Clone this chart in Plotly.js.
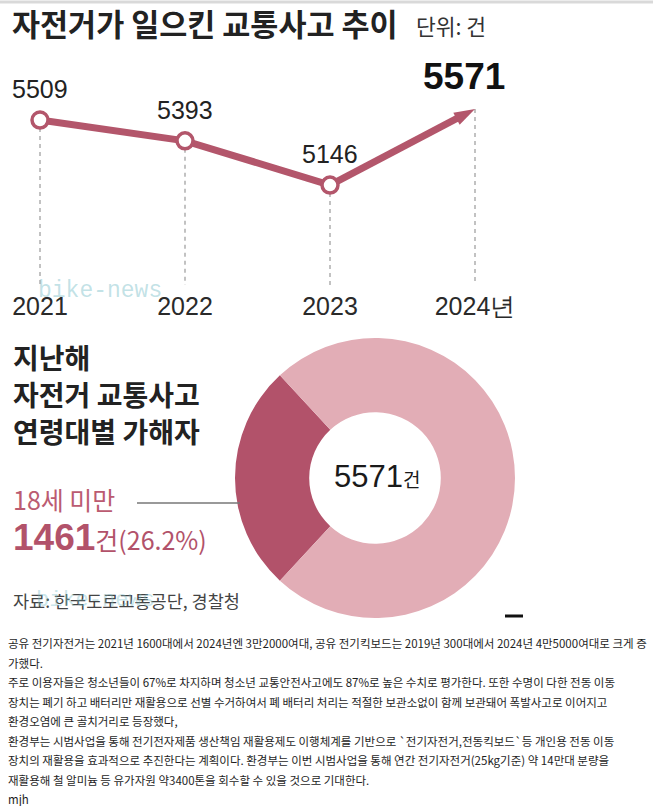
<!DOCTYPE html>
<html>
<head>
<meta charset="utf-8">
<script src="https://cdn.plot.ly/plotly-3.0.1.min.js"></script>
<style>
  html, body { margin: 0; padding: 0; background: #fff; }
  #chart { width: 653px; height: 806px; }
</style>
</head>
<body>
<div id="chart"></div>
<script>
// ---- data -------------------------------------------------------------
const years = [2021, 2022, 2023, 2024];
const yearLabels = ['2021', '2022', '2023', '2024년'];
const accidents = [5509, 5393, 5146, 5571];

const ageGroups = ['18세 미만', '18세 이상'];
const offenders = [1461, 4110];

const chartTitle = '자전거가 일으킨 교통사고 추이';
const unitNote = '단위: 건';
const donutHeading = ['지난해', '자전거 교통사고', '연령대별 가해자'];
const sourceNote = '자료: 한국도로교통공단, 경찰청';
const watermark = 'bike-news';

const bodyLines = [
  '공유 전기자전거는 2021년 1600대에서 2024년엔 3만2000여대, 공유 전기킥보드는 2019년 300대에서 2024년 4만5000여대로 크게 증',
  '가했다.',
  '주로 이용자들은 청소년들이 67%로 차지하며 청소년 교통안전사고에도 87%로 높은 수치로 평가한다. 또한 수명이 다한 전동 이동',
  '장치는 폐기 하고 배터리만 재활용으로 선별 수거하여서 폐 배터리 처리는 적절한 보관소없이 함께 보관돼어 폭발사고로 이어지고',
  '환경오염에 큰 골치거리로 등장했다,',
  '환경부는 시범사업을 통해 전기전자제품 생산책임 재활용제도 이행체계를 기반으로 `전기자전거,전동킥보드`등 개인용 전동 이동',
  '장치의 재활용을 효과적으로 추진한다는 계획이다. 환경부는 이번 시범사업을 통해 연간 전기자전거(25kg기준) 약 14만대 분량을',
  '재활용해 철 알미늄 등 유가자원 약3400톤을 회수할 수 있을 것으로 기대한다.'
];
const byline = 'mjh';

// ---- styling ----------------------------------------------------------
const W = 653, H = 806;
const px = x => x / W;
const py = y => 1 - y / H;

const ROSE = '#b3566b';
const ROSE_DARK = '#b2526a';
const ROSE_LIGHT = '#e2adb6';
const INK = '#222222';
const KR = '"Noto Sans CJK KR", "Noto Sans", sans-serif';
const SANS = '"Liberation Sans", Arial, sans-serif';

// y scale of the trend panel: 5.585 accidents per pixel
const Y_TOP = 5900, Y_BOTTOM = 4588;
const last = accidents.length - 1;

const total = offenders.reduce((a, b) => a + b, 0);
const share = offenders[0] / total * 100;

// ---- traces -----------------------------------------------------------
// final rising segment, ending in an arrowhead at the latest year
const trendArrow = {
  type: 'scatter',
  mode: 'lines+markers',
  x: years.slice(last - 1),
  y: accidents.slice(last - 1),
  line: { color: ROSE, width: 7 },
  marker: { symbol: 'arrow', size: 22, color: ROSE, angleref: 'previous', line: { width: 0 } },
  cliponaxis: false,
  hoverinfo: 'skip',
  showlegend: false
};

// earlier years, joined by the line with open ring markers
const trendLine = {
  type: 'scatter',
  mode: 'lines+markers',
  x: years.slice(0, last),
  y: accidents.slice(0, last),
  line: { color: ROSE, width: 7 },
  marker: { symbol: 'circle', size: 16, color: '#ffffff', line: { color: ROSE, width: 3.5 } },
  cliponaxis: false,
  hoverinfo: 'skip',
  showlegend: false
};

const donut = {
  type: 'pie',
  labels: ageGroups,
  values: offenders,
  hole: 0.47,
  sort: false,
  direction: 'counterclockwise',
  rotation: -90 - share * 1.8,   // under-18 slice centred at 9 o'clock
  marker: { colors: [ROSE_DARK, ROSE_LIGHT], line: { width: 0 } },
  textinfo: 'none',
  hoverinfo: 'skip',
  showlegend: false,
  domain: { x: [px(235), px(515)], y: [py(618), py(338)] }
};

// ---- shapes -----------------------------------------------------------
const shapes = [
  // thin rule along the top edge
  { type: 'line', xref: 'paper', yref: 'paper', x0: 0, x1: 1, y0: py(2), y1: py(2),
    line: { color: '#d9d9d9', width: 3 } },
  // leader line from the under-18 label to the ring
  { type: 'line', xref: 'paper', yref: 'paper', x0: px(137), x1: px(240), y0: py(503), y1: py(503),
    line: { color: '#777777', width: 1.5 } },
  // small dash under the ring
  { type: 'line', xref: 'paper', yref: 'paper', x0: px(505), x1: px(523), y0: py(616), y1: py(616),
    line: { color: '#111111', width: 3 } }
];
// dashed drop lines from each point to the year axis
years.forEach((yr, i) => {
  shapes.push({
    type: 'line', xref: 'x', yref: 'y', layer: 'below',
    x0: yr, x1: yr, y0: accidents[i], y1: Y_BOTTOM,
    line: { color: '#9a9a9a', width: 1.2, dash: '4px,4px' }
  });
});

// ---- annotations ------------------------------------------------------
const ann = [];
const text = (t, x, y, font, extra) => ann.push(Object.assign({
  text: t, xref: 'paper', yref: 'paper', x: px(x), y: py(y),
  xanchor: 'left', yanchor: 'middle', showarrow: false, font: font
}, extra || {}));

// headline
text('<b>' + chartTitle + '</b>', 10, 23, { family: KR, size: 30.5, color: INK });
text(unitNote, 414, 25, { family: KR, size: 21.5, color: '#333333' });

// value labels above each point
accidents.forEach((v, i) => {
  const isLast = i === last;
  ann.push({
    text: isLast ? '<b>' + v + '</b>' : String(v),
    xref: 'x', yref: 'y', x: years[i], y: v,
    xanchor: 'center', yanchor: 'middle', showarrow: false,
    yshift: isLast ? 32 : 31, xshift: isLast ? -11 : 0,
    font: { family: SANS, size: isLast ? 37 : 25, color: isLast ? '#111111' : INK }
  });
});

// donut heading
donutHeading.forEach((t, i) => {
  text('<b>' + t + '</b>', 11, 357 + i * 37, { family: KR, size: 28, color: INK });
});

// under-18 callout
text(ageGroups[0], 11, 499, { family: KR, size: 25, color: '#bb5b71' });
text('<b><span style="font-family:\'Liberation Sans\';font-size:37px">' + offenders[0] + '</span></b>' +
     '<span style="font-size:25px">건(' + share.toFixed(1) + '%)</span>',
     11, 537, { family: KR, size: 25, color: ROSE_DARK });

// total in the hole of the ring
text('<span style="font-family:\'Liberation Sans\';font-size:31px">' + total + '</span>' +
     '<span style="font-size:19px">건</span>',
     377, 476, { family: KR, size: 31, color: '#1a1a1a' }, { xanchor: 'center' });

// source
text(sourceNote, 11, 600, { family: KR, size: 17.5, color: '#444444' });

// faint watermarks
text(watermark, 100, 291, { family: '"Liberation Mono", monospace', size: 23, color: 'rgba(120,190,200,0.45)' },
     { xanchor: 'center' });
text(watermark, 95, 600, { family: '"Liberation Mono", monospace', size: 22, color: 'rgba(120,190,200,0.4)' },
     { xanchor: 'center' });

// article paragraph
bodyLines.forEach((t, i) => {
  text(t, 6, 643 + i * 19.5, { family: KR, size: 11.5, color: '#1e1e1e' });
});
text(byline, 6, 799, { family: KR, size: 11.5, color: '#1e1e1e' });

// ---- layout -----------------------------------------------------------
const layout = {
  width: W, height: H,
  margin: { l: 0, r: 0, t: 0, b: 0 },
  paper_bgcolor: '#ffffff',
  plot_bgcolor: 'rgba(0,0,0,0)',
  showlegend: false,
  xaxis: {
    domain: [0, 1],
    range: [2021 - 40 / 145, 2024 + 178 / 145],
    tickvals: years,
    ticktext: yearLabels,
    ticks: '',
    showgrid: false, zeroline: false, showline: false,
    tickfont: { family: SANS, size: 25, color: '#2a2a2a' },
    ticklabelstandoff: 4,
    fixedrange: true
  },
  yaxis: {
    domain: [py(285), py(50)],
    range: [Y_BOTTOM, Y_TOP],
    visible: false,
    fixedrange: true
  },
  shapes: shapes,
  annotations: ann
};

Plotly.newPlot('chart', [trendArrow, trendLine, donut], layout, { displayModeBar: false, staticPlot: true });
</script>
</body>
</html>
